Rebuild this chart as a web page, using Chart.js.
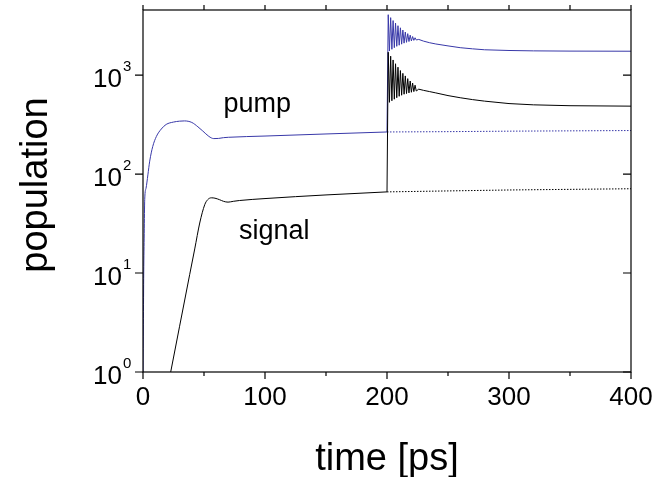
<!DOCTYPE html>
<html>
<head>
<meta charset="utf-8">
<script src="https://cdn.jsdelivr.net/npm/chart.js@4.4.0/dist/chart.umd.min.js"></script>
<style>
    html, body { margin: 0; padding: 0; background: #fff; }
</style>
</head>
<body>
<canvas id="grafico" width="667" height="477"></canvas>
<script>
// ── Datos ──
// pump / signal antes del pulso (t <= 200 ps)
const tiempoPump  = [0, 0.3, 0.6, 1.0, 1.4, 2.5, 4, 5.5, 8, 11, 15, 19, 25, 30, 34, 40, 45, 49, 54, 58, 62, 66, 70, 100, 150, 200];
const valoresPump = [1, 3, 10, 25, 55, 72, 98, 135, 190, 240, 285, 317, 335, 342, 344, 332, 300, 272, 240, 228, 229, 233, 235, 242, 254, 266];

const tiempoSignal  = [21, 22.7, 30, 38.3, 42.4, 46.5, 50.6, 53, 56, 59, 62.8, 66, 69.7, 74, 79, 100, 150, 200];
const valoresSignal = [0.78, 1, 2.9, 9.7, 17.5, 32, 49, 55, 57.5, 57, 55, 53, 52, 53, 54, 56.5, 61.5, 66];

// rama con pulso en t = 200 ps (línea continua, oscilaciones amortiguadas)
const tiempoSalto = [200, 201, 202, 203, 204, 205, 206, 207, 208, 209, 210, 211, 212, 213, 214, 215, 216, 217, 218, 219, 220,
                     221, 222, 223, 224, 226, 230, 235, 240, 250, 260, 270, 280, 300, 320, 350, 400];
const pumpSalto   = [266, 4070, 1750, 3800, 1820, 3550, 1890, 3350, 1950, 3150, 2000, 3000, 2050, 2850, 2100, 2720, 2140, 2620, 2180, 2530, 2210,
                     2450, 2240, 2380, 2260, 2290, 2200, 2120, 2060, 1970, 1890, 1840, 1800, 1770, 1755, 1745, 1740];
const signalSalto = [66, 1700, 530, 1550, 550, 1420, 570, 1300, 590, 1200, 610, 1110, 625, 1040, 640, 980, 650, 920, 660, 870, 670,
                     830, 680, 790, 690, 720, 700, 680, 660, 620, 590, 565, 545, 515, 500, 490, 485];

// rama sin pulso (línea punteada)
const tiempoCola  = [200, 250, 300, 350, 400];
const pumpCola    = [266, 268, 271, 273, 275];
const signalCola  = [66, 67.5, 69, 70, 71];

// ejes
const X_TICKS      = [0, 50, 100, 150, 200, 250, 300, 350, 400];
const X_ETIQUETAS  = [0, 100, 200, 300, 400];
const Y_TICKS      = [1, 10, 100, 1000];
const Y_EXPONENTES = ['0', '1', '2', '3'];

// rótulos dentro del gráfico: [texto, t, población]
const ROTULOS = [['pump', 93.6, 420], ['signal', 107.5, 22.3]];

const AZUL  = '#3838a8';
const NEGRO = '#000000';
const FUENTE = "'Liberation Sans', Arial, sans-serif";

function puntos(ts, vs) {
    return ts.map((t, i) => ({ x: t, y: vs[i] }));
}

// ── Marco, ticks y textos dibujados con las escalas de Chart.js ──
const marcoYTextos = {
    id: 'marcoYTextos',
    afterDatasetsDraw(chart) {
        const { ctx, chartArea: a, scales: { x, y } } = chart;
        ctx.save();
        ctx.strokeStyle = '#000';
        ctx.lineWidth = 1.2;
        ctx.strokeRect(a.left, a.top, a.right - a.left, a.bottom - a.top);

        ctx.beginPath();
        X_TICKS.forEach(v => {
            const px = x.getPixelForValue(v);
            const largo = v % 100 === 0 ? 7 : 4;
            ctx.moveTo(px, a.bottom); ctx.lineTo(px, a.bottom + largo);
            ctx.moveTo(px, a.top);    ctx.lineTo(px, a.top - 5);
        });
        Y_TICKS.forEach(v => {
            const py = y.getPixelForValue(v);
            ctx.moveTo(a.left, py);  ctx.lineTo(a.left - 8, py);
            ctx.moveTo(a.right, py); ctx.lineTo(a.right - 8, py);
        });
        ctx.stroke();

        ctx.fillStyle = '#000';
        ctx.textBaseline = 'alphabetic';

        // etiquetas eje x
        ctx.font = `26px ${FUENTE}`;
        ctx.textAlign = 'center';
        X_ETIQUETAS.forEach(v => ctx.fillText(String(v), x.getPixelForValue(v), 405));

        // etiquetas eje y: 10 con exponente
        Y_TICKS.forEach((v, i) => {
            const py = y.getPixelForValue(v);
            ctx.font = `26px ${FUENTE}`;
            ctx.textAlign = 'right';
            ctx.fillText('10', a.left - 21, py + 12);
            ctx.font = `15px ${FUENTE}`;
            ctx.textAlign = 'left';
            ctx.fillText(Y_EXPONENTES[i], a.left - 20, py - 4);
        });

        // rótulos de curvas
        ctx.font = `27px ${FUENTE}`;
        ctx.textAlign = 'center';
        ROTULOS.forEach(([texto, t, p]) => ctx.fillText(texto, x.getPixelForValue(t), y.getPixelForValue(p)));

        // títulos de ejes
        ctx.font = `38px ${FUENTE}`;
        ctx.fillText('time [ps]', (a.left + a.right) / 2, 470);
        ctx.translate(47, 185);
        ctx.rotate(-Math.PI / 2);
        ctx.fillText('population', 0, 0);
        ctx.restore();
    }
};

const base = { pointRadius: 0, borderWidth: 1, fill: false };

new Chart(document.getElementById('grafico').getContext('2d'), {
    type: 'line',
    data: {
        datasets: [
            { ...base, data: puntos(tiempoSignal, valoresSignal), borderColor: NEGRO, cubicInterpolationMode: 'monotone' },
            { ...base, data: puntos(tiempoSalto, signalSalto),    borderColor: NEGRO, tension: 0 },
            { ...base, data: puntos(tiempoCola, signalCola),      borderColor: NEGRO, borderDash: [1.5, 1.5] },
            { ...base, data: puntos(tiempoPump, valoresPump),     borderColor: AZUL, cubicInterpolationMode: 'monotone' },
            { ...base, data: puntos(tiempoSalto, pumpSalto),      borderColor: AZUL, tension: 0 },
            { ...base, data: puntos(tiempoCola, pumpCola),        borderColor: AZUL, borderDash: [1.5, 1.5] },
        ],
    },
    options: {
        responsive: false,
        animation: false,
        layout: { padding: { left: 143, right: 36, top: 10, bottom: 105 } },
        plugins: { legend: { display: false }, tooltip: { enabled: false } },
        scales: {
            x: { type: 'linear', min: 0, max: 400, display: false },
            y: { type: 'logarithmic', min: 1, max: 4540, display: false },
        },
    },
    plugins: [marcoYTextos],
});
</script>
</body>
</html>
